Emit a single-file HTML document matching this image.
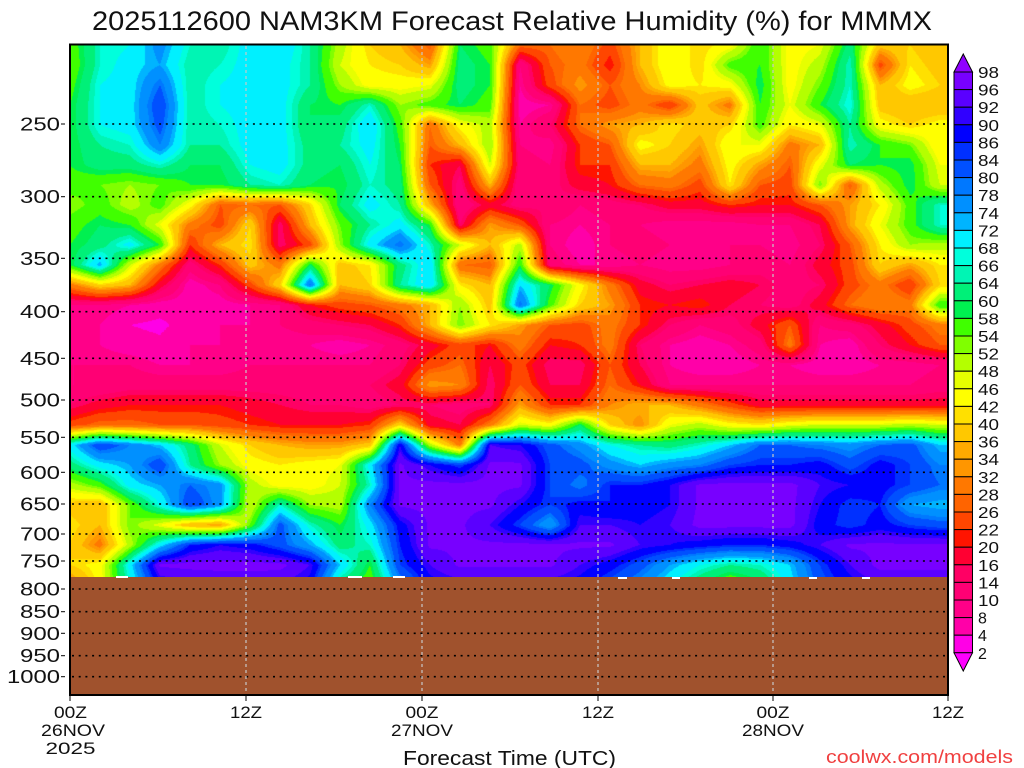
<!DOCTYPE html>
<html><head><meta charset="utf-8">
<style>
html,body{margin:0;padding:0;background:#fff;}
#wrap{position:relative;width:1024px;height:768px;overflow:hidden;background:#fff;}
#fb{position:absolute;left:70px;top:45px;width:878px;height:533px;background:linear-gradient(to bottom,#80ff00 0px,#00f0ff 80px,#ffc800 200px,#ff0088 260px,#ff0088 350px,#ff1400 380px,#ffff00 400px,#00f0ff 420px,#0030ff 450px,#7800ff 533px);}
#c{position:absolute;left:70px;top:45px;width:878px;height:533px;}
#brown{position:absolute;left:70px;top:577px;width:878px;height:118px;background:#a0522d;}
svg{position:absolute;left:0;top:0;}
text{font-family:"Liberation Sans",sans-serif;fill:#111;}
</style></head>
<body><div id="wrap">
<div id="fb"></div>
<canvas id="c" width="878" height="533"></canvas>
<div id="brown"></div>
<svg width="1024" height="768" xmlns="http://www.w3.org/2000/svg">
<!-- terrain notches -->
<g fill="#fff">
<rect x="116" y="576" width="12" height="2"/><rect x="348" y="576" width="14" height="2"/><rect x="393" y="576" width="12" height="2"/>
<rect x="618" y="577" width="9" height="2"/><rect x="672" y="577" width="8" height="2"/><rect x="809" y="577" width="8" height="2"/><rect x="862" y="577" width="8" height="2"/>
</g>
<!-- horizontal dotted grid -->
<g stroke="#000" stroke-width="1.6" stroke-dasharray="2 4.7">
<line x1="72" x2="947" y1="124" y2="124"/>
<line x1="72" x2="947" y1="196.7" y2="196.7"/>
<line x1="72" x2="947" y1="258.3" y2="258.3"/>
<line x1="72" x2="947" y1="311.7" y2="311.7"/>
<line x1="72" x2="947" y1="358.3" y2="358.3"/>
<line x1="72" x2="947" y1="400" y2="400"/>
<line x1="72" x2="947" y1="437.3" y2="437.3"/>
<line x1="72" x2="947" y1="472.3" y2="472.3"/>
<line x1="72" x2="947" y1="504" y2="504"/>
<line x1="72" x2="947" y1="534" y2="534"/>
<line x1="72" x2="947" y1="561" y2="561"/>
<line x1="72" x2="947" y1="589" y2="589"/>
<line x1="72" x2="947" y1="611.7" y2="611.7"/>
<line x1="72" x2="947" y1="633.3" y2="633.3"/>
<line x1="72" x2="947" y1="655.7" y2="655.7"/>
<line x1="72" x2="947" y1="676.7" y2="676.7"/>
</g>
<!-- vertical dotted grid -->
<g stroke="#c8c8c8" stroke-width="1.2" stroke-dasharray="3 3">
<line x1="246" x2="246" y1="46" y2="694"/>
<line x1="422" x2="422" y1="46" y2="694"/>
<line x1="598" x2="598" y1="46" y2="694"/>
<line x1="773" x2="773" y1="46" y2="694"/>
</g>
<!-- frame -->
<rect x="70" y="44.5" width="878" height="650.5" fill="none" stroke="#000" stroke-width="2"/>
<!-- y ticks -->
<g stroke="#000" stroke-width="1">
<line x1="61" x2="65" y1="124" y2="124"/><line x1="61" x2="65" y1="196.7" y2="196.7"/><line x1="61" x2="65" y1="258.3" y2="258.3"/>
<line x1="61" x2="65" y1="311.7" y2="311.7"/><line x1="61" x2="65" y1="358.3" y2="358.3"/><line x1="61" x2="65" y1="400" y2="400"/>
<line x1="61" x2="65" y1="437.3" y2="437.3"/><line x1="61" x2="65" y1="472.3" y2="472.3"/><line x1="61" x2="65" y1="504" y2="504"/>
<line x1="61" x2="65" y1="534" y2="534"/><line x1="61" x2="65" y1="561" y2="561"/><line x1="61" x2="65" y1="589" y2="589"/>
<line x1="61" x2="65" y1="611.7" y2="611.7"/><line x1="61" x2="65" y1="633.3" y2="633.3"/><line x1="61" x2="65" y1="655.7" y2="655.7"/>
<line x1="61" x2="65" y1="676.7" y2="676.7"/>
<line x1="70" x2="70" y1="695" y2="701"/><line x1="246" x2="246" y1="695" y2="701"/><line x1="422" x2="422" y1="695" y2="701"/>
<line x1="598" x2="598" y1="695" y2="701"/><line x1="773" x2="773" y1="695" y2="701"/><line x1="948" x2="948" y1="695" y2="701"/>
</g>
<!-- y labels -->
<g font-size="18" text-anchor="end">
<text x="60" y="130.5" textLength="40" lengthAdjust="spacingAndGlyphs">250</text>
<text x="60" y="203.2" textLength="40" lengthAdjust="spacingAndGlyphs">300</text>
<text x="60" y="264.8" textLength="40" lengthAdjust="spacingAndGlyphs">350</text>
<text x="60" y="318.2" textLength="40" lengthAdjust="spacingAndGlyphs">400</text>
<text x="60" y="364.8" textLength="40" lengthAdjust="spacingAndGlyphs">450</text>
<text x="60" y="406.5" textLength="40" lengthAdjust="spacingAndGlyphs">500</text>
<text x="60" y="443.8" textLength="40" lengthAdjust="spacingAndGlyphs">550</text>
<text x="60" y="478.8" textLength="40" lengthAdjust="spacingAndGlyphs">600</text>
<text x="60" y="510.5" textLength="40" lengthAdjust="spacingAndGlyphs">650</text>
<text x="60" y="540.5" textLength="40" lengthAdjust="spacingAndGlyphs">700</text>
<text x="60" y="567.5" textLength="40" lengthAdjust="spacingAndGlyphs">750</text>
<text x="60" y="595.5" textLength="40" lengthAdjust="spacingAndGlyphs">800</text>
<text x="60" y="618.2" textLength="40" lengthAdjust="spacingAndGlyphs">850</text>
<text x="60" y="639.8" textLength="40" lengthAdjust="spacingAndGlyphs">900</text>
<text x="60" y="662.2" textLength="40" lengthAdjust="spacingAndGlyphs">950</text>
<text x="60" y="683.2" textLength="53" lengthAdjust="spacingAndGlyphs">1000</text>
</g>
<!-- x labels -->
<g font-size="17" text-anchor="middle">
<text x="70.5" y="718" textLength="33" lengthAdjust="spacingAndGlyphs">00Z</text>
<text x="73" y="736" textLength="64" lengthAdjust="spacingAndGlyphs">26NOV</text>
<text x="70.5" y="754" textLength="50" lengthAdjust="spacingAndGlyphs">2025</text>
<text x="246" y="718" textLength="32" lengthAdjust="spacingAndGlyphs">12Z</text>
<text x="422" y="718" textLength="33" lengthAdjust="spacingAndGlyphs">00Z</text>
<text x="422" y="736" textLength="62" lengthAdjust="spacingAndGlyphs">27NOV</text>
<text x="598" y="718" textLength="32" lengthAdjust="spacingAndGlyphs">12Z</text>
<text x="773" y="718" textLength="33" lengthAdjust="spacingAndGlyphs">00Z</text>
<text x="773" y="736" textLength="62" lengthAdjust="spacingAndGlyphs">28NOV</text>
<text x="948" y="718" textLength="32" lengthAdjust="spacingAndGlyphs">12Z</text>
</g>
<text x="403" y="765" font-size="20" textLength="213" lengthAdjust="spacingAndGlyphs">Forecast Time (UTC)</text>
<text x="826" y="763" font-size="18" textLength="187" lengthAdjust="spacingAndGlyphs" style="fill:#f04040">coolwx.com/models</text>
<!-- title -->
<text x="92" y="30" font-size="27" textLength="840" lengthAdjust="spacingAndGlyphs">2025112600 NAM3KM Forecast Relative Humidity (%) for MMMX</text>
<!-- colorbar -->
<g stroke="#000" stroke-width="1">
<polygon points="954,72 972.5,72 963.25,54" fill="#9000ff"/>
<rect x="954" y="72" width="18.5" height="17.6" fill="#7800ff"/>
<rect x="954" y="89.6" width="18.5" height="17.6" fill="#5a00ff"/>
<rect x="954" y="107.2" width="18.5" height="17.6" fill="#3000ff"/>
<rect x="954" y="124.8" width="18.5" height="17.6" fill="#0000ff"/>
<rect x="954" y="142.4" width="18.5" height="17.6" fill="#0030ff"/>
<rect x="954" y="160" width="18.5" height="17.6" fill="#0050ff"/>
<rect x="954" y="177.6" width="18.5" height="17.6" fill="#0078ff"/>
<rect x="954" y="195.2" width="18.5" height="17.6" fill="#0090ff"/>
<rect x="954" y="212.8" width="18.5" height="17.6" fill="#00b4ff"/>
<rect x="954" y="230.4" width="18.5" height="17.6" fill="#00f0ff"/>
<rect x="954" y="248" width="18.5" height="17.6" fill="#00ffdc"/>
<rect x="954" y="265.6" width="18.5" height="17.6" fill="#00f5b4"/>
<rect x="954" y="283.2" width="18.5" height="17.6" fill="#00f078"/>
<rect x="954" y="300.8" width="18.5" height="17.6" fill="#00f050"/>
<rect x="954" y="318.4" width="18.5" height="17.6" fill="#40ff00"/>
<rect x="954" y="336" width="18.5" height="17.6" fill="#80ff00"/>
<rect x="954" y="353.6" width="18.5" height="17.6" fill="#b4ff00"/>
<rect x="954" y="371.2" width="18.5" height="17.6" fill="#e6ff00"/>
<rect x="954" y="388.8" width="18.5" height="17.6" fill="#ffff00"/>
<rect x="954" y="406.4" width="18.5" height="17.6" fill="#ffe000"/>
<rect x="954" y="424" width="18.5" height="17.6" fill="#ffc800"/>
<rect x="954" y="441.6" width="18.5" height="17.6" fill="#ffaa00"/>
<rect x="954" y="459.2" width="18.5" height="17.6" fill="#ff9600"/>
<rect x="954" y="476.8" width="18.5" height="17.6" fill="#ff7800"/>
<rect x="954" y="494.4" width="18.5" height="17.6" fill="#ff6400"/>
<rect x="954" y="512" width="18.5" height="17.6" fill="#ff4600"/>
<rect x="954" y="529.6" width="18.5" height="17.6" fill="#ff1400"/>
<rect x="954" y="547.2" width="18.5" height="17.6" fill="#ff0032"/>
<rect x="954" y="564.8" width="18.5" height="17.6" fill="#ff0064"/>
<rect x="954" y="582.4" width="18.5" height="17.6" fill="#ff0074"/>
<rect x="954" y="600" width="18.5" height="17.6" fill="#ff0088"/>
<rect x="954" y="617.6" width="18.5" height="17.6" fill="#ff00a8"/>
<rect x="954" y="635.2" width="18.5" height="17.6" fill="#ff00e6"/>
<polygon points="954,652.8 972.5,652.8 963.25,671" fill="#ff00ff"/>
</g>
<g font-size="16">
<text x="978" y="78" textLength="21" lengthAdjust="spacingAndGlyphs">98</text>
<text x="978" y="95.6" textLength="21" lengthAdjust="spacingAndGlyphs">96</text>
<text x="978" y="113.2" textLength="21" lengthAdjust="spacingAndGlyphs">92</text>
<text x="978" y="130.8" textLength="21" lengthAdjust="spacingAndGlyphs">90</text>
<text x="978" y="148.4" textLength="21" lengthAdjust="spacingAndGlyphs">86</text>
<text x="978" y="166" textLength="21" lengthAdjust="spacingAndGlyphs">84</text>
<text x="978" y="183.6" textLength="21" lengthAdjust="spacingAndGlyphs">80</text>
<text x="978" y="201.2" textLength="21" lengthAdjust="spacingAndGlyphs">78</text>
<text x="978" y="218.8" textLength="21" lengthAdjust="spacingAndGlyphs">74</text>
<text x="978" y="236.4" textLength="21" lengthAdjust="spacingAndGlyphs">72</text>
<text x="978" y="254" textLength="21" lengthAdjust="spacingAndGlyphs">68</text>
<text x="978" y="271.6" textLength="21" lengthAdjust="spacingAndGlyphs">66</text>
<text x="978" y="289.2" textLength="21" lengthAdjust="spacingAndGlyphs">64</text>
<text x="978" y="306.8" textLength="21" lengthAdjust="spacingAndGlyphs">60</text>
<text x="978" y="324.4" textLength="21" lengthAdjust="spacingAndGlyphs">58</text>
<text x="978" y="342" textLength="21" lengthAdjust="spacingAndGlyphs">54</text>
<text x="978" y="359.6" textLength="21" lengthAdjust="spacingAndGlyphs">52</text>
<text x="978" y="377.2" textLength="21" lengthAdjust="spacingAndGlyphs">48</text>
<text x="978" y="394.8" textLength="21" lengthAdjust="spacingAndGlyphs">46</text>
<text x="978" y="412.4" textLength="21" lengthAdjust="spacingAndGlyphs">42</text>
<text x="978" y="430" textLength="21" lengthAdjust="spacingAndGlyphs">40</text>
<text x="978" y="447.6" textLength="21" lengthAdjust="spacingAndGlyphs">36</text>
<text x="978" y="465.2" textLength="21" lengthAdjust="spacingAndGlyphs">34</text>
<text x="978" y="482.8" textLength="21" lengthAdjust="spacingAndGlyphs">32</text>
<text x="978" y="500.4" textLength="21" lengthAdjust="spacingAndGlyphs">28</text>
<text x="978" y="518" textLength="21" lengthAdjust="spacingAndGlyphs">26</text>
<text x="978" y="535.6" textLength="21" lengthAdjust="spacingAndGlyphs">22</text>
<text x="978" y="553.2" textLength="21" lengthAdjust="spacingAndGlyphs">20</text>
<text x="978" y="570.8" textLength="21" lengthAdjust="spacingAndGlyphs">16</text>
<text x="978" y="588.4" textLength="21" lengthAdjust="spacingAndGlyphs">14</text>
<text x="978" y="606" textLength="21" lengthAdjust="spacingAndGlyphs">10</text>
<text x="978" y="623.6">8</text>
<text x="978" y="641.2">4</text>
<text x="978" y="658.8">2</text>
</g>
</svg>
</div>
<script>
(function(){
var G=[
[55,66,68,76,66,64,70,72,64,50,40,36,26,60,56,28,28,32,24,36,46,40,44,58,44,46,62,38,40,36],
[54,66,70,74,64,66,70,70,64,48,42,40,34,62,58,10,26,30,20,36,46,40,56,58,44,50,66,24,42,38],
[56,68,70,80,64,68,70,70,64,52,44,44,46,62,58,8,24,34,26,32,44,42,44,60,44,54,66,36,44,40],
[58,68,70,84,64,68,70,70,60,58,66,52,56,60,56,6,8,28,24,30,22,38,30,58,46,58,68,38,36,36],
[58,68,70,82,64,66,70,70,60,62,72,56,28,44,50,8,14,28,34,36,42,38,40,56,42,46,64,44,40,44],
[58,64,66,78,64,64,70,70,62,64,70,58,26,36,52,10,8,22,26,44,40,34,46,46,30,36,66,58,54,42],
[58,62,62,66,60,60,68,70,62,60,68,60,22,16,48,12,10,22,22,36,36,30,44,34,26,46,60,58,60,46],
[56,54,52,54,58,58,64,66,60,58,66,62,26,12,36,10,12,18,20,28,30,24,42,26,24,54,26,50,60,48],
[52,56,50,56,44,26,28,26,40,60,70,64,36,10,18,12,14,10,12,14,18,18,22,20,20,26,34,42,56,66],
[56,60,58,46,30,24,40,14,36,54,64,70,58,14,34,26,10,8,10,10,8,8,8,10,10,16,34,46,56,66],
[58,62,70,58,22,36,42,14,24,52,70,80,66,48,36,50,10,6,10,12,10,8,10,10,8,14,26,42,52,50],
[58,74,48,30,12,22,38,30,60,38,42,62,72,28,26,58,12,8,8,10,8,8,10,12,10,18,24,40,34,42],
[30,40,36,18,6,10,24,40,80,36,40,64,72,42,36,72,60,44,30,18,14,16,18,16,12,14,24,30,22,40],
[10,10,8,6,6,6,8,10,20,24,26,30,36,52,38,80,56,40,34,22,20,22,16,14,12,18,28,32,30,58],
[10,8,4,3,6,8,8,10,12,14,16,22,36,54,42,34,26,24,30,22,14,10,12,18,26,10,12,18,24,30],
[8,8,6,5,8,8,8,8,8,6,8,12,18,24,20,30,20,22,30,14,8,6,8,12,30,8,6,14,20,26],
[10,10,10,8,8,8,10,10,10,10,10,14,24,28,16,24,14,14,26,16,8,6,6,8,8,6,6,8,8,10],
[10,10,12,12,12,12,12,12,12,14,14,18,34,32,14,26,16,16,28,20,10,10,10,10,10,10,10,10,10,12],
[14,18,20,20,20,20,18,16,14,14,12,14,14,12,14,34,22,22,32,36,36,30,24,18,18,18,18,18,18,18],
[24,28,28,26,26,24,22,20,20,20,22,40,18,16,30,48,44,60,40,32,46,50,44,42,46,48,48,48,50,48],
[70,84,78,72,62,48,40,36,34,34,38,90,50,30,92,90,82,76,68,64,62,66,72,80,80,78,76,80,82,72],
[62,70,74,84,64,52,44,42,44,46,70,94,90,84,94,94,84,82,76,72,76,78,84,86,86,88,82,88,84,78],
[50,56,70,74,80,76,50,44,44,48,66,94,96,96,96,94,84,78,86,86,90,94,96,96,96,92,90,88,84,80],
[38,36,54,68,84,76,48,66,52,50,78,94,96,96,94,90,84,88,86,88,90,94,96,96,96,90,84,86,74,72],
[42,36,54,46,36,34,54,82,66,58,70,88,94,94,92,84,74,92,92,90,92,96,96,96,96,88,84,88,84,82],
[40,30,50,70,86,90,88,82,74,62,66,86,94,94,94,96,94,94,94,92,90,88,86,86,88,92,94,94,94,94],
[40,44,70,94,97,97,97,96,92,72,58,84,92,94,94,94,94,92,88,82,74,68,64,66,72,84,92,96,96,96],
[30,44,66,88,90,92,92,92,88,62,54,76,88,90,90,90,90,88,82,76,68,60,52,58,70,82,88,92,92,92]
];
var L=[2,4,8,10,14,16,20,22,26,28,32,34,36,40,42,46,48,52,54,58,60,64,66,68,72,74,78,80,84,86,90,92,96,98];
var C=["ff00ff","ff00e6","ff00a8","ff0088","ff0074","ff0064","ff0032","ff1400","ff4600","ff6400","ff7800","ff9600","ffaa00","ffc800","ffe000","ffff00","e6ff00","b4ff00","80ff00","40ff00","00f050","00f078","00f5b4","00ffdc","00f0ff","00b4ff","0090ff","0078ff","0050ff","0030ff","0000ff","3000ff","5a00ff","7800ff","9000ff"];
var R=C.map(function(h){return [parseInt(h.substr(0,2),16),parseInt(h.substr(2,2),16),parseInt(h.substr(4,2),16)];});
var nr=G.length,nc=G[0].length,i,j;
for(j=0;j<nr;j++)for(i=0;i<nc;i++){var g=G[j][i];if(g>=93)G[j][i]=96.5+(g-93)*0.3;}
var cv=document.getElementById('c');var ctx=cv.getContext('2d');var W=878,H=533;
var im=ctx.createImageData(W,H);var d=im.data;
for(var py=0;py<H;py++){
 var gy=(py+0.5)/20;if(gy>nr-1)gy=nr-1;var j0=Math.floor(gy);if(j0>nr-2)j0=nr-2;var fy=gy-j0;
 for(var px=0;px<W;px++){
  var gx=(px+0.5)/30;if(gx>nc-1)gx=nc-1;var i0=Math.floor(gx);if(i0>nc-2)i0=nc-2;var fx=gx-i0;
  var v=(G[j0][i0]*(1-fx)+G[j0][i0+1]*fx)*(1-fy)+(G[j0+1][i0]*(1-fx)+G[j0+1][i0+1]*fx)*fy;
  var k=0;while(k<L.length&&v>=L[k])k++;
  var c=R[k];var o=(py*W+px)*4;d[o]=c[0];d[o+1]=c[1];d[o+2]=c[2];d[o+3]=255;
 }
}
ctx.putImageData(im,0,0);
})();
</script>
</body></html>
